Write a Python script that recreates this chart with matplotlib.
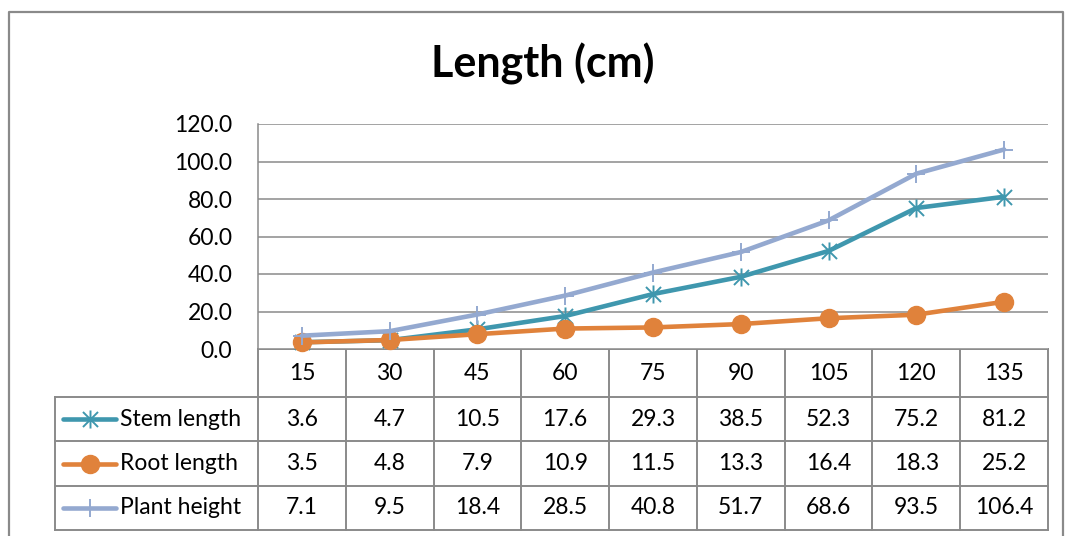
import numpy as np
import matplotlib
matplotlib.use("Agg")
import matplotlib.pyplot as plt
from matplotlib.path import Path

plt.rcParams["font.family"] = ["Lato", "DejaVu Sans"]

# data: days after sowing and measured lengths (cm)
days = ["15", "30", "45", "60", "75", "90", "105", "120", "135"]
stem_length = [3.6, 4.7, 10.5, 17.6, 29.3, 38.5, 52.3, 75.2, 81.2]
root_length = [3.5, 4.8, 7.9, 10.9, 11.5, 13.3, 16.4, 18.3, 25.2]
plant_height = [7.1, 9.5, 18.4, 28.5, 40.8, 51.7, 68.6, 93.5, 106.4]
series_names = ["Stem length", "Root length", "Plant height"]
y_ticks = [0, 20, 40, 60, 80, 100, 120]

colors = ["#3f97ae", "#e0823b", "#94a9d0"]
grid_col = "#8a8a8a"
fs = 16.5

# excel-style asterisk marker (x plus vertical bar)
star = Path([(-1, -1), (1, 1), (-1, 1), (1, -1), (0, -1.2), (0, 1.2)],
            [Path.MOVETO, Path.LINETO, Path.MOVETO, Path.LINETO, Path.MOVETO, Path.LINETO])
marker_kw = [
    dict(marker=star, markersize=13, markeredgewidth=1.4, markerfacecolor="none"),
    dict(marker="o", markersize=13),
    dict(marker="+", markersize=13, markeredgewidth=1.4),
]

W, H = 1067, 536
fig = plt.figure(figsize=(W / 100, H / 100), dpi=100)

# layout in pixels
px_left, px_right = 258, 1048
px_top, px_zero = 124, 349
row_edges = [349, 397, 441, 486, 530]
legend_left = 55

ax = fig.add_axes([px_left / W, 1 - px_zero / H, (px_right - px_left) / W, (px_zero - px_top) / H])
x = np.arange(len(days))
for vals, c, mk in zip([stem_length, root_length, plant_height], colors, marker_kw):
    ax.plot(x, vals, color=c, lw=3.3, markeredgecolor=c, clip_on=False, solid_capstyle="round", **mk)

ax.set_xlim(-0.5, len(days) - 0.5)
ax.set_ylim(0, 120)
ax.set_yticks(y_ticks)
ax.set_yticklabels([f"{v:.1f}" for v in y_ticks], fontsize=fs)
ax.tick_params(axis="y", length=0, pad=18.5)
ax.set_xticks([])
ax.yaxis.grid(True, color=grid_col, lw=1.1)
ax.set_axisbelow(True)
for s in ["top", "right", "bottom"]:
    ax.spines[s].set_visible(False)
ax.spines["left"].set_color(grid_col)
ax.spines["left"].set_linewidth(1.1)

fig.text(543 / W, 1 - 64 / H, "Length (cm)", ha="center", va="center",
         fontsize=31, fontweight="bold")

# data table underneath the plot, drawn in pixel coordinates
tax = fig.add_axes([0, 0, 1, 1], zorder=-1)
tax.set_xlim(0, W)
tax.set_ylim(H, 0)
tax.axis("off")

# outer chart border
tax.plot([9, 9, 1063, 1063], [H + 5, 12, 12, H + 5], color=grid_col, lw=1.6)

col_w = (px_right - px_left) / len(days)
line_kw = dict(color=grid_col, lw=1.4)
for i in range(len(days) + 1):
    xc = px_left + i * col_w
    tax.plot([xc, xc], [row_edges[0], row_edges[-1]], **line_kw)
tax.plot([px_left, px_right], [row_edges[0], row_edges[0]], **line_kw)
for ye in row_edges[1:]:
    tax.plot([legend_left, px_right], [ye, ye], **line_kw)
tax.plot([legend_left, legend_left], [row_edges[1], row_edges[-1]], **line_kw)

# category labels
yc = (row_edges[0] + row_edges[1]) / 2
for i, d in enumerate(days):
    tax.text(px_left + (i + 0.5) * col_w, yc, d, ha="center", va="center", fontsize=fs)

# series rows with legend keys
for r, (name, vals, c, mk) in enumerate(zip(series_names,
                                            [stem_length, root_length, plant_height],
                                            colors, marker_kw)):
    yc = (row_edges[r + 1] + row_edges[r + 2]) / 2
    tax.plot([63, 116], [yc, yc], color=c, lw=3.3, solid_capstyle="round")
    tax.plot([89.5], [yc], color=c, markeredgecolor=c, **mk)
    tax.text(120, yc, name, ha="left", va="center", fontsize=fs)
    for i, v in enumerate(vals):
        tax.text(px_left + (i + 0.5) * col_w, yc, f"{v:.1f}", ha="center", va="center", fontsize=fs)

fig.savefig("out.png", dpi=100)
